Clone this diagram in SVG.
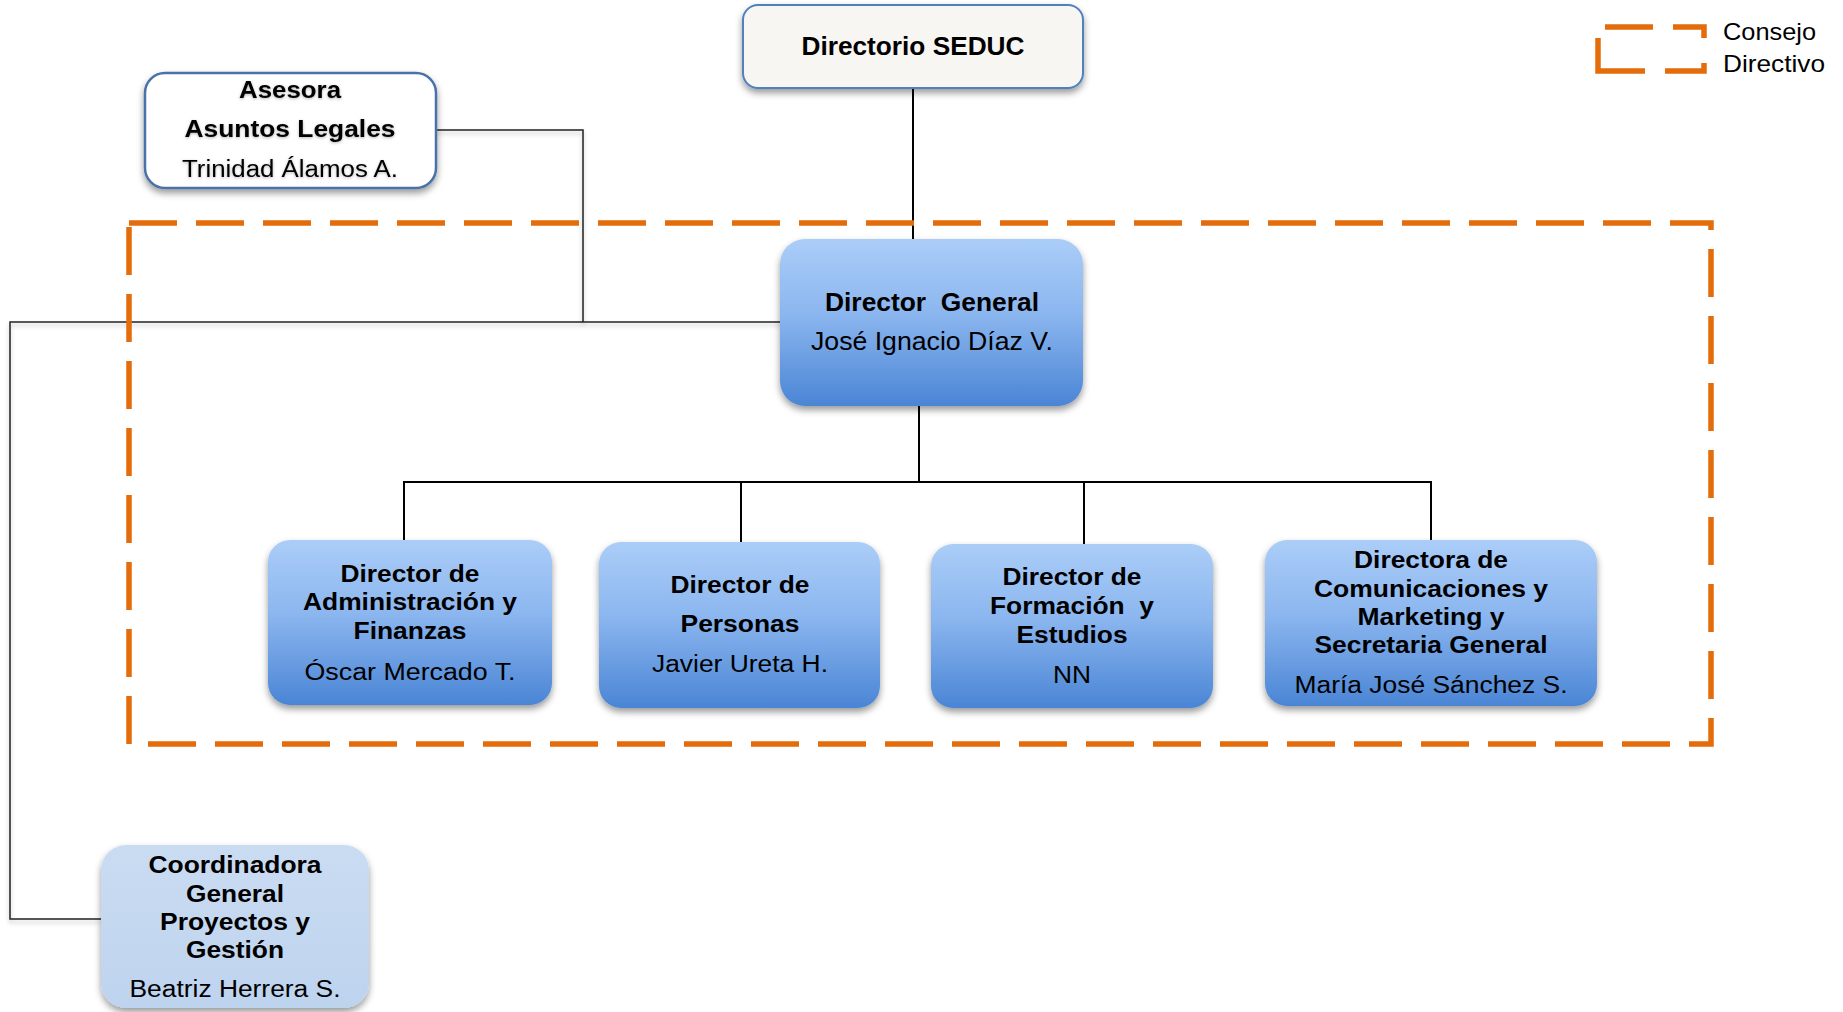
<svg xmlns="http://www.w3.org/2000/svg" width="1843" height="1012" viewBox="0 0 1843 1012">
<style>
text{font-family:"Liberation Sans",Arial,sans-serif;fill:#000;text-anchor:middle}
.b{font-weight:bold}
.r{font-weight:normal}
.f24{font-size:23.5px}
.main{fill:none;stroke:#000;stroke-width:2}
.side{fill:none;stroke:#222;stroke-width:1.5;filter:url(#lsh)}
.blue{fill:url(#gBlue);filter:url(#sh)}
.cons{fill:none;stroke:#E46C0A;stroke-width:5.5}
.leg{fill:none;stroke:#E46C0A;stroke-width:5.5;stroke-linecap:butt}
</style>
<defs>
<linearGradient id="gBlue" x1="0" y1="0" x2="0" y2="1">
<stop offset="0" stop-color="#abcdf8"/>
<stop offset="0.45" stop-color="#8bb6ef"/>
<stop offset="1" stop-color="#4a85d5"/>
</linearGradient>
<linearGradient id="gLight" x1="0" y1="0" x2="0" y2="1">
<stop offset="0" stop-color="#cadcf2"/>
<stop offset="1" stop-color="#bed3ee"/>
</linearGradient>
<filter id="sh" x="-10%" y="-10%" width="120%" height="130%">
<feDropShadow dx="0" dy="4" stdDeviation="3.5" flood-color="#000" flood-opacity="0.4"/>
</filter>
<filter id="lsh" x="-5%" y="-5%" width="110%" height="110%">
<feDropShadow dx="0" dy="3" stdDeviation="2" flood-color="#000" flood-opacity="0.25"/>
</filter>
<filter id="tsh" x="-10%" y="-30%" width="120%" height="160%">
<feDropShadow dx="0" dy="1" stdDeviation="1.5" flood-color="#000" flood-opacity="0.3"/>
</filter>
</defs>

<g id="connectors">
<path class="main" d="M913,88 V239"/>
<path class="main" d="M919,406 V482"/>
<path class="main" d="M404,482 H1431"/>
<path class="main" d="M404,481 V540"/>
<path class="main" d="M741,481 V542"/>
<path class="main" d="M1084,481 V544"/>
<path class="main" d="M1431,481 V540"/>
<path class="side" d="M436,130 H583 V322"/>
<path class="side" d="M780,322 H10 V919 H101"/>
</g>

<g id="consejo-directivo">
<rect class="cons" x="129" y="223" width="1582" height="521" stroke-dasharray="48 19"/>
</g>

<g id="legend">
<path class="leg" d="M1605,27 H1653"/>
<path class="leg" d="M1673,27 H1704 V38"/>
<path class="leg" d="M1598,38 V71 H1645"/>
<path class="leg" d="M1665,71 H1704 V63"/>
<text class="r" x="1723" y="40" style="text-anchor:start;font-size:24px" textLength="93" lengthAdjust="spacingAndGlyphs">Consejo</text>
<text class="r" x="1723" y="72" style="text-anchor:start;font-size:24px" textLength="102" lengthAdjust="spacingAndGlyphs">Directivo</text>
</g>

<g id="directorio-seduc">
<rect x="743" y="5" width="340" height="83" rx="15" fill="#f7f6f3" stroke="#4f81bd" stroke-width="2" filter="url(#sh)"/>
<text class="b" x="913" y="55" style="font-size:26px" textLength="223" lengthAdjust="spacingAndGlyphs">Directorio SEDUC</text>
</g>

<g id="asesora">
<rect x="145" y="73" width="291" height="115" rx="20" fill="#fff" stroke="#4a72a8" stroke-width="2.5" filter="url(#sh)"/>
<g filter="url(#tsh)">
<text class="b" x="290" y="98" style="font-size:23.5px" textLength="102" lengthAdjust="spacingAndGlyphs">Asesora</text>
<text class="b" x="290" y="137" style="font-size:23.5px" textLength="211" lengthAdjust="spacingAndGlyphs">Asuntos Legales</text>
<text class="r" x="290" y="177" style="font-size:23.5px" textLength="216" lengthAdjust="spacingAndGlyphs">Trinidad Álamos A.</text>
</g>
</g>

<g id="director-general">
<rect class="blue" x="780" y="239" width="303" height="167" rx="25"/>
<text class="b" x="932" y="311" style="font-size:25px" textLength="214" lengthAdjust="spacingAndGlyphs" xml:space="preserve">Director  General</text>
<text class="r" x="932" y="350" style="font-size:25px" textLength="242" lengthAdjust="spacingAndGlyphs">José Ignacio Díaz V.</text>
</g>

<g id="dir-admin-finanzas">
<rect class="blue" x="268" y="540" width="284" height="165" rx="22"/>
<text class="b f24" x="410" y="582" textLength="139" lengthAdjust="spacingAndGlyphs">Director de</text>
<text class="b f24" x="410" y="610" textLength="214" lengthAdjust="spacingAndGlyphs">Administración y</text>
<text class="b f24" x="410" y="639" textLength="113" lengthAdjust="spacingAndGlyphs">Finanzas</text>
<text class="r f24" x="410" y="680" textLength="211" lengthAdjust="spacingAndGlyphs">Óscar Mercado T.</text>
</g>

<g id="dir-personas">
<rect class="blue" x="599" y="542" width="281" height="166" rx="22"/>
<text class="b f24" x="740" y="593" textLength="139" lengthAdjust="spacingAndGlyphs">Director de</text>
<text class="b f24" x="740" y="632" textLength="119" lengthAdjust="spacingAndGlyphs">Personas</text>
<text class="r f24" x="740" y="672" textLength="176" lengthAdjust="spacingAndGlyphs">Javier Ureta H.</text>
</g>

<g id="dir-formacion-estudios">
<rect class="blue" x="931" y="544" width="282" height="164" rx="22"/>
<text class="b f24" x="1072" y="585" textLength="139" lengthAdjust="spacingAndGlyphs">Director de</text>
<text class="b f24" x="1072" y="614" textLength="164" lengthAdjust="spacingAndGlyphs" xml:space="preserve">Formación  y</text>
<text class="b f24" x="1072" y="643" textLength="111" lengthAdjust="spacingAndGlyphs">Estudios</text>
<text class="r f24" x="1072" y="683" textLength="38" lengthAdjust="spacingAndGlyphs">NN</text>
</g>

<g id="dir-comunicaciones">
<rect class="blue" x="1265" y="540" width="332" height="166" rx="22"/>
<text class="b f24" x="1431" y="568" textLength="154" lengthAdjust="spacingAndGlyphs">Directora de</text>
<text class="b f24" x="1431" y="597" textLength="234" lengthAdjust="spacingAndGlyphs">Comunicaciones y</text>
<text class="b f24" x="1431" y="625" textLength="147" lengthAdjust="spacingAndGlyphs">Marketing y</text>
<text class="b f24" x="1431" y="653" textLength="233" lengthAdjust="spacingAndGlyphs">Secretaria General</text>
<text class="r f24" x="1431" y="693" textLength="273" lengthAdjust="spacingAndGlyphs">María José Sánchez S.</text>
</g>

<g id="coordinadora">
<rect x="101" y="845" width="268" height="163" rx="25" fill="url(#gLight)" filter="url(#sh)"/>
<text class="b f24" x="235" y="873" textLength="173" lengthAdjust="spacingAndGlyphs">Coordinadora</text>
<text class="b f24" x="235" y="902" textLength="98" lengthAdjust="spacingAndGlyphs">General</text>
<text class="b f24" x="235" y="930" textLength="150" lengthAdjust="spacingAndGlyphs">Proyectos y</text>
<text class="b f24" x="235" y="958" textLength="98" lengthAdjust="spacingAndGlyphs">Gestión</text>
<text class="r f24" x="235" y="997" textLength="211" lengthAdjust="spacingAndGlyphs">Beatriz Herrera S.</text>
</g>
</svg>
